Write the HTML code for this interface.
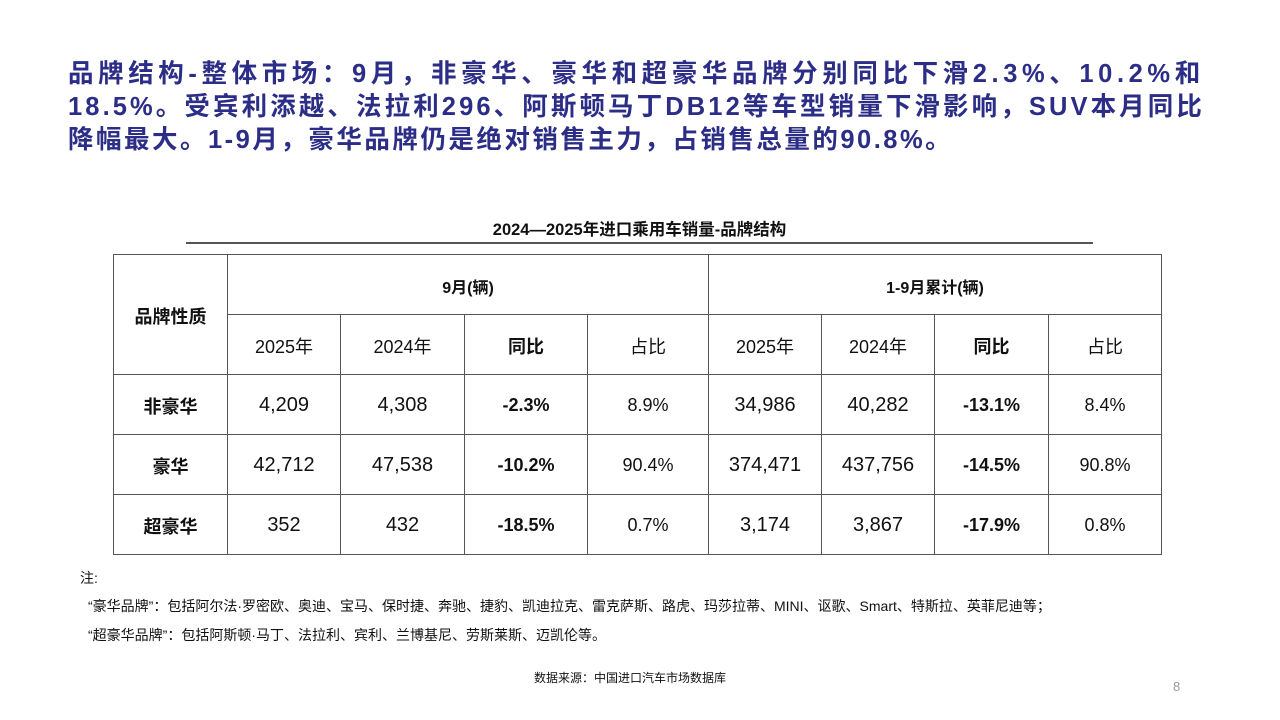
<!DOCTYPE html>
<html><head><meta charset="utf-8"><style>
body{margin:0;width:1280px;height:720px;background:#fff;position:relative;overflow:hidden;font-family:"Liberation Sans","Noto Sans CJK SC",sans-serif;color:#111}
.t{position:absolute;left:68px;top:58px;width:1200px;font-size:25.5px;font-weight:bold;color:#2b2d87;line-height:33px;white-space:nowrap}
.ct{position:absolute;left:186px;width:907px;top:216px;text-align:center;font-weight:bold;font-size:16.5px}
.ul{position:absolute;left:186px;width:907px;top:242px;border-top:2px solid #555}
table{position:absolute;left:113px;top:254px;border-collapse:collapse;table-layout:fixed}
td{border:1px solid #555;text-align:center;height:57px;padding:2px 0 0 0;font-size:20px}
.b{font-weight:bold;font-size:18px}
.s{font-size:18px}
.n{position:absolute;font-size:14px}
</style></head><body>
<div class="t"><div style="letter-spacing:4.6px">品牌结构-整体市场：9月，非豪华、豪华和超豪华品牌分别同比下滑2.3%、10.2%和</div><div style="letter-spacing:3.1px">18.5%。受宾利添越、法拉利296、阿斯顿马丁DB12等车型销量下滑影响，SUV本月同比</div><div style="letter-spacing:2.5px">降幅最大。1-9月，豪华品牌仍是绝对销售主力，占销售总量的90.8%。</div></div>
<div class="ct">2024—2025年进口乘用车销量-品牌结构</div>
<div class="ul"></div>
<table>
<colgroup><col style="width:114px"><col style="width:113px"><col style="width:124px"><col style="width:123px"><col style="width:121px"><col style="width:113px"><col style="width:113px"><col style="width:114px"><col style="width:113px"></colgroup>
<tr><td rowspan="2" class="b">品牌性质</td><td colspan="4" class="b" style="font-size:16px">9月(辆)</td><td colspan="4" class="b" style="font-size:16px">1-9月累计(辆)</td></tr>
<tr><td class="s">2025年</td><td class="s">2024年</td><td class="b">同比</td><td class="s">占比</td><td class="s">2025年</td><td class="s">2024年</td><td class="b">同比</td><td class="s">占比</td></tr>
<tr><td class="b">非豪华</td><td>4,209</td><td>4,308</td><td class="b">-2.3%</td><td class="s">8.9%</td><td>34,986</td><td>40,282</td><td class="b">-13.1%</td><td class="s">8.4%</td></tr>
<tr><td class="b">豪华</td><td>42,712</td><td>47,538</td><td class="b">-10.2%</td><td class="s">90.4%</td><td>374,471</td><td>437,756</td><td class="b">-14.5%</td><td class="s">90.8%</td></tr>
<tr><td class="b">超豪华</td><td>352</td><td>432</td><td class="b">-18.5%</td><td class="s">0.7%</td><td>3,174</td><td>3,867</td><td class="b">-17.9%</td><td class="s">0.8%</td></tr>
</table>
<div class="n" style="left:80px;top:568px">注:</div>
<div class="n" style="left:88px;top:596px">“豪华品牌”：包括阿尔法·罗密欧、奥迪、宝马、保时捷、奔驰、捷豹、凯迪拉克、雷克萨斯、路虎、玛莎拉蒂、MINI、讴歌、Smart、特斯拉、英菲尼迪等；</div>
<div class="n" style="left:88px;top:625px">“超豪华品牌”：包括阿斯顿·马丁、法拉利、宾利、兰博基尼、劳斯莱斯、迈凯伦等。</div>
<div class="n" style="left:0;width:1260px;text-align:center;top:669px;font-size:12px">数据来源：中国进口汽车市场数据库</div>
<div class="n" style="left:1173px;top:679px;color:#999;font-size:13px">8</div>
</body></html>
